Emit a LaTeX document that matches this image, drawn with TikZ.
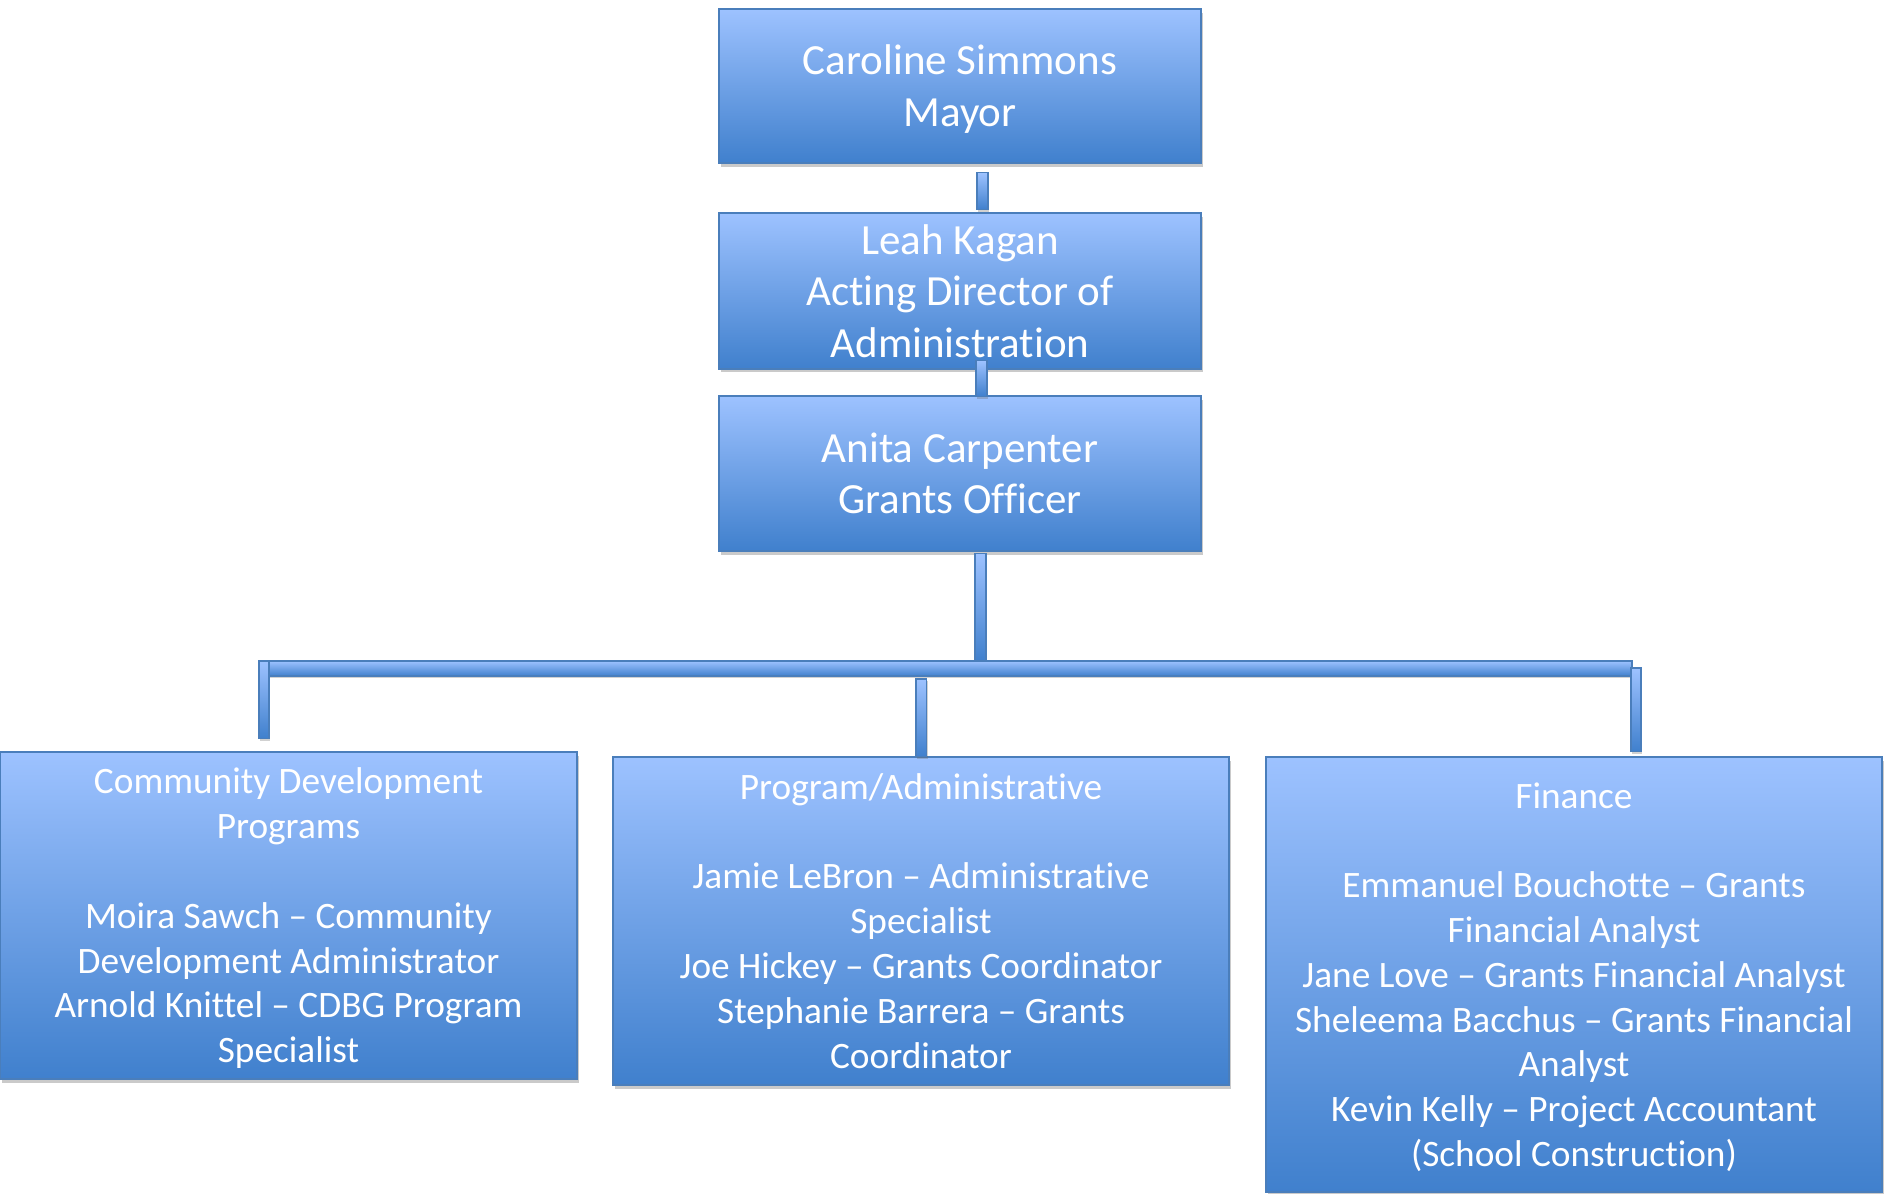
\documentclass[tikz,border=0pt]{standalone}
\usepackage{fontspec}
\setmainfont{Carlito}[Ligatures={NoCommon}]
\usetikzlibrary{shadows}
\definecolor{boxtop}{RGB}{157,194,255}
\definecolor{boxbot}{RGB}{64,128,205}
\definecolor{boxline}{RGB}{74,126,187}
\newcommand\tstrut{\rule{0pt}{0.952em}}
\newcommand\bstrut{\rule[-0.269em]{0pt}{0.269em}}
\tikzset{
  box/.style={draw=boxline, line width=0.8pt, top color=boxtop, bottom color=boxbot,
    text=white, align=center, inner sep=0pt,
    drop shadow={shadow xshift=0.8pt, shadow yshift=-1.8pt, opacity=0.35, fill=black!60}},
  topbox/.style={box, minimum width=241pt, minimum height=77pt, font=\fontsize{21.5}{25.8}\selectfont},
  lowbox/.style={box, minimum width=308pt, font=\fontsize{18.65}{22.4}\selectfont},
  bar/.style={draw=boxline, line width=0.6pt, top color=boxtop, bottom color=boxbot,
    drop shadow={shadow xshift=0.6pt, shadow yshift=-1.2pt, opacity=0.3, fill=black!60}}
}
\begin{document}
\begin{tikzpicture}
\useasboundingbox (0,0) rectangle (943pt,-597pt);
\node[topbox] (car) at (480pt,-43pt) {\tstrut Caroline Simmons\\Mayor\bstrut};
\node[topbox] (leah) at (480pt,-145.5pt) {\tstrut Leah Kagan\\Acting Director of\\Administration\bstrut};
\node[topbox, minimum height=77.5pt] (anita) at (480pt,-236.75pt) {\tstrut Anita Carpenter\\Grants Officer\bstrut};
\node[lowbox, minimum width=288.5pt, minimum height=163.5pt] (comm) at (144.25pt,-457.75pt)
  {\tstrut Community Development\\Programs\\[22.4pt]Moira Sawch – Community\\Development Administrator\\Arnold Knittel – CDBG Program\\Specialist\bstrut};
\node[lowbox, minimum height=164pt] (prog) at (460.5pt,-460.5pt)
  {\tstrut Program/Administrative\\[22.4pt]Jamie LeBron – Administrative\\Specialist\\Joe Hickey – Grants Coordinator\\Stephanie Barrera – Grants\\Coordinator\bstrut};
\node[lowbox, minimum height=217.5pt] (fin) at (787pt,-487.25pt)
  {\tstrut Finance\\[22.4pt]Emmanuel Bouchotte – Grants\\Financial Analyst\\Jane Love – Grants Financial Analyst\\Sheleema Bacchus – Grants Financial\\Analyst\\Kevin Kelly – Project Accountant\\(School Construction)\bstrut};
\coordinate (busL) at (130pt,-330.5pt);
\coordinate (busR) at (816pt,-338pt);
\path[bar] ([xshift=8.5pt,yshift=-4.5pt]car.south) rectangle ([xshift=14pt,yshift=1.5pt]leah.north);
\path[bar] ([xshift=8pt,yshift=4.5pt]leah.south) rectangle ([xshift=13.5pt,yshift=-0.5pt]anita.north);
\path[bar] ([xshift=7.5pt,yshift=-1pt]anita.south) rectangle ([xshift=13pt]anita.south |- busL);
\path[bar] (busL) rectangle (busR);
\path[bar] ([xshift=-14.75pt]comm.north |- busL) rectangle ([xshift=-9.75pt,yshift=6.5pt]comm.north);
\path[bar] ([xshift=-2.5pt,yshift=-1.5pt]prog.north |- busR) rectangle ([xshift=2.75pt]prog.north);
\path[bar] ([xshift=28.5pt,yshift=4pt]fin.north |- busR) rectangle ([xshift=33.5pt,yshift=2.5pt]fin.north);
\end{tikzpicture}
\end{document}
